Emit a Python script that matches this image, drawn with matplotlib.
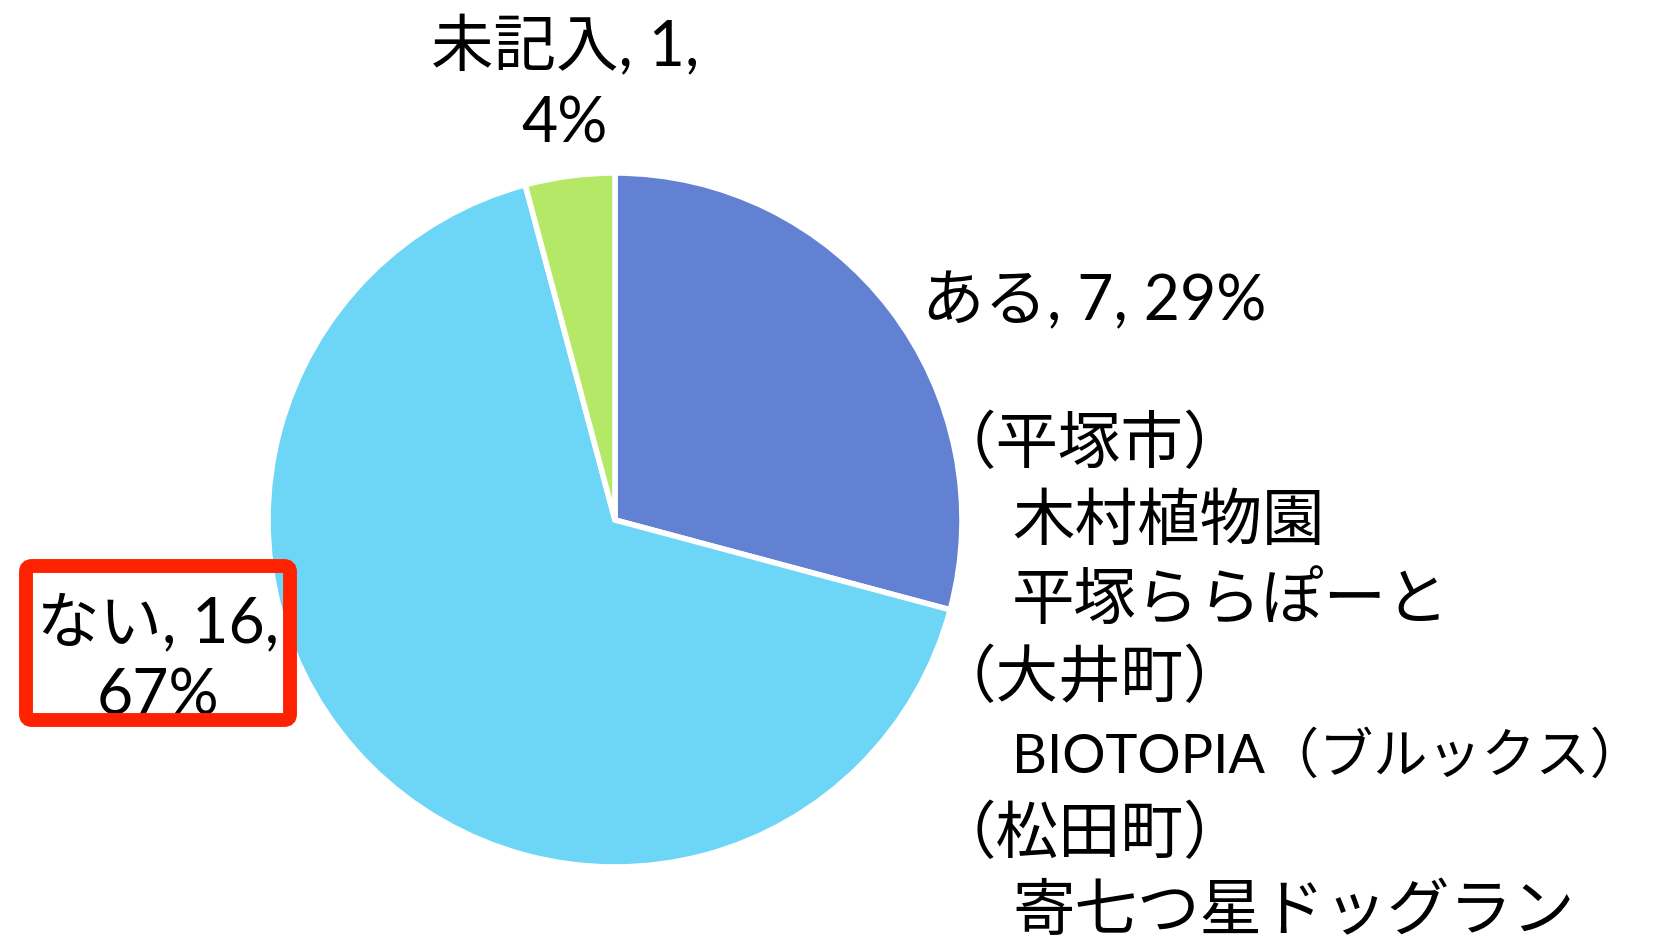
import matplotlib.pyplot as plt
from matplotlib.patches import FancyBboxPatch

plt.rcParams['font.family'] = ['Lato', 'Noto Sans CJK JP', 'DejaVu Sans']

# data
labels = ['ある', 'ない', '未記入']
counts = [7, 16, 1]
colors = ['#6281D2', '#6DD5F5', '#B5E866']
places = ['（平塚市）', '木村植物園', '平塚ららぽーと', '（大井町）',
          'BIOTOPIA（ブルックス）', '（松田町）', '寄七つ星ドッグラン']

total = sum(counts)
pct = [round(c / total * 100) for c in counts]

W, H = 1653, 938
fig = plt.figure(figsize=(W / 100, H / 100), dpi=100)
ax = fig.add_axes([0, 0, 1, 1])

ax.pie(counts, colors=colors, startangle=90, counterclock=False,
       center=(615, H - 520), radius=347,
       wedgeprops=dict(edgecolor='white', linewidth=4))
ax.set_xlim(0, W)
ax.set_ylim(0, H)
ax.set_aspect('equal')
ax.axis('off')

fs = 45

# ある label + places
ax.text(922, H - 302, f'{labels[0]}, {counts[0]}, {pct[0]}%', fontsize=fs,
        ha='left', va='center')
for i, p in enumerate(places):
    x = 934 if p.startswith('（') else 1012
    size = 39 if len(p) > 10 else fs   # long line shrunk a bit to fit
    ax.text(x, H - (444 + i * 78), p, fontsize=size, ha='left', va='center')

# 未記入 label
ax.text(565, H - 47, f'{labels[2]}, {counts[2]},', fontsize=fs, ha='center', va='center')
ax.text(565, H - 124, f'{pct[2]}%', fontsize=fs, ha='center', va='center')

# ない label in red box
ax.text(158, H - 624, f'{labels[1]}, {counts[1]},', fontsize=fs, ha='center', va='center')
ax.text(158, H - 696, f'{pct[1]}%', fontsize=fs, ha='center', va='center')
box = FancyBboxPatch((26, H - 720), 264, 154, boxstyle='round,pad=0,rounding_size=6',
                     fill=False, edgecolor='#FF2200', linewidth=10, zorder=5)
ax.add_patch(box)

fig.savefig('out.png', dpi=100)
